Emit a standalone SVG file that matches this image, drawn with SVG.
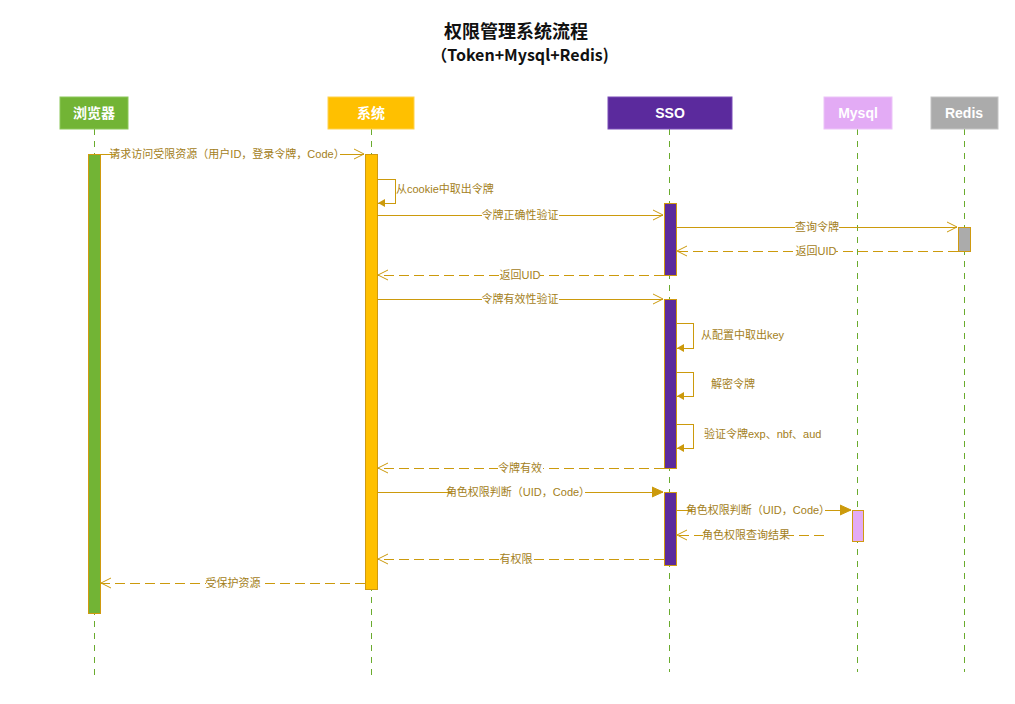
<svg xmlns="http://www.w3.org/2000/svg" width="1015" height="704" viewBox="0 0 1015 704">
<style>
.title{font-family:"Noto Sans CJK SC","Liberation Sans",sans-serif;font-weight:bold;fill:#111;text-anchor:middle}
.hd{font-family:"Liberation Sans","Noto Sans CJK SC",sans-serif;font-weight:bold;fill:#fff;text-anchor:middle;font-size:14px}
.life{stroke:#6aab2e;stroke-width:1;stroke-dasharray:6,6;fill:none}
.act{stroke:#d09a10;stroke-width:1;shape-rendering:crispEdges}
.msg{stroke:#cc9a0c;stroke-width:1;fill:none;shape-rendering:crispEdges}
.dash{stroke-dasharray:10,5}
.lbl{font-family:"Liberation Sans","Noto Sans CJK SC",sans-serif;font-size:11px;fill:#a3801a}
.mid{text-anchor:middle}
.bg{fill:#fff}
</style>
<defs>
<marker id="open" markerWidth="12" markerHeight="12" refX="11" refY="6" orient="auto" markerUnits="userSpaceOnUse">
<path d="M1,1 L11,6 L1,11" fill="none" stroke="#cc9a0c" stroke-width="1"/>
</marker>
<marker id="fill" markerWidth="12" markerHeight="12" refX="11" refY="6" orient="auto" markerUnits="userSpaceOnUse">
<path d="M0,1 L11,6 L0,11 Z" fill="#cc9a0c" stroke="#cc9a0c" stroke-width="1"/>
</marker>
<marker id="small" markerWidth="8" markerHeight="10" refX="7" refY="5" orient="auto" markerUnits="userSpaceOnUse">
<path d="M0,1 L7,5 L0,9 Z" fill="#cc9a0c"/>
</marker>
</defs>
<rect width="1015" height="704" fill="#fff"/>
<g id="title">
<text class="title" x="516" y="38" font-size="18">权限管理系统流程</text>
<text class="title" x="520" y="61" font-size="16">（Token+Mysql+Redis)</text>
</g>
<g id="lifelines">
<line class="life" x1="94.5" y1="129" x2="94.5" y2="678"/>
<line class="life" x1="371.5" y1="129" x2="371.5" y2="678"/>
<line class="life" x1="669.5" y1="129" x2="669.5" y2="672"/>
<line class="life" x1="857.5" y1="129" x2="857.5" y2="672"/>
<line class="life" x1="964.5" y1="129" x2="964.5" y2="672"/>
</g>
<g id="browser">
<rect x="60" y="97" width="68" height="32" fill="#72b435" stroke="#8cc85a" stroke-width="1"/>
<text class="hd" x="94" y="118" font-size="16">浏览器</text>
<rect class="act" x="88" y="154" width="12" height="459" fill="#72b435"/>
</g>
<g id="system">
<rect x="328" y="97" width="86" height="32" fill="#ffc000" stroke="#ffd24d" stroke-width="1"/>
<text class="hd" x="371" y="118" font-size="16">系统</text>
<rect class="act" x="365" y="154" width="12" height="435" fill="#ffc000"/>
</g>
<g id="sso">
<rect x="608" y="97" width="124" height="32" fill="#5b2a9d" stroke="#7a4cb8" stroke-width="1"/>
<text class="hd" x="670" y="118">SSO</text>
<rect class="act" x="664" y="203" width="12" height="72" fill="#5b2a9d"/>
<rect class="act" x="664" y="299" width="12" height="169" fill="#5b2a9d"/>
<rect class="act" x="664" y="492" width="12" height="73" fill="#5b2a9d"/>
</g>
<g id="mysql">
<rect x="824" y="97" width="68" height="32" fill="#e3abf5" stroke="#ecc4f8" stroke-width="1"/>
<text class="hd" x="858" y="118">Mysql</text>
<rect class="act" x="852" y="510" width="11" height="31" fill="#e3abf5"/>
</g>
<g id="redis">
<rect x="931" y="97" width="67" height="32" fill="#ababab" stroke="#c4c4c4" stroke-width="1"/>
<text class="hd" x="964" y="118">Redis</text>
<rect class="act" x="958" y="227" width="12" height="24" fill="#ababab"/>
</g>
<g id="connectors">
<line class="msg" x1="100" y1="154" x2="364" y2="154" marker-end="url(#open)"/>
<path class="msg" d="M377,179 H395 V203 H378" marker-end="url(#small)"/>
<line class="msg" x1="377" y1="215" x2="663" y2="215" marker-end="url(#open)"/>
<line class="msg" x1="676" y1="227" x2="957" y2="227" marker-end="url(#open)"/>
<line class="msg dash" x1="958" y1="251" x2="677" y2="251" marker-end="url(#open)"/>
<line class="msg dash" x1="664" y1="275" x2="378" y2="275" marker-end="url(#open)"/>
<line class="msg" x1="377" y1="299" x2="663" y2="299" marker-end="url(#open)"/>
<path class="msg" d="M676,323 H693 V348 H677" marker-end="url(#small)"/>
<path class="msg" d="M676,372 H693 V396 H677" marker-end="url(#small)"/>
<path class="msg" d="M676,424 H693 V448 H677" marker-end="url(#small)"/>
<line class="msg dash" x1="664" y1="468" x2="378" y2="468" marker-end="url(#open)"/>
<line class="msg" x1="377" y1="492" x2="663" y2="492" marker-end="url(#fill)"/>
<line class="msg" x1="676" y1="510" x2="851" y2="510" marker-end="url(#fill)"/>
<line class="msg dash" x1="824" y1="535" x2="677" y2="535" marker-end="url(#open)"/>
<line class="msg dash" x1="664" y1="559" x2="378" y2="559" marker-end="url(#open)"/>
<line class="msg dash" x1="365" y1="583" x2="101" y2="583" marker-end="url(#open)"/>
</g>
<g id="labels">
<rect class="bg" x="116" y="148" width="224" height="12"/>
<text class="lbl mid" x="227" y="158">请求访问受限资源（用户ID，登录令牌，Code）</text>
<text class="lbl" x="396" y="193">从cookie中取出令牌</text>
<rect class="bg" x="482" y="209" width="77" height="12"/>
<text class="lbl mid" x="520" y="219">令牌正确性验证</text>
<rect class="bg" x="795" y="221" width="44" height="12"/>
<text class="lbl mid" x="817" y="231">查询令牌</text>
<rect class="bg" x="797" y="245" width="39" height="12"/>
<text class="lbl mid" x="816" y="255">返回UID</text>
<rect class="bg" x="501" y="269" width="39" height="12"/>
<text class="lbl mid" x="520" y="279">返回UID</text>
<rect class="bg" x="482" y="293" width="77" height="12"/>
<text class="lbl mid" x="520" y="303">令牌有效性验证</text>
<text class="lbl" x="701" y="339">从配置中取出key</text>
<text class="lbl" x="711" y="388">解密令牌</text>
<text class="lbl" x="704" y="438">验证令牌exp、nbf、aud</text>
<rect class="bg" x="498" y="462" width="45" height="12"/>
<text class="lbl mid" x="520" y="472">令牌有效</text>
<rect class="bg" x="451" y="486" width="134" height="12"/>
<text class="lbl mid" x="518" y="496">角色权限判断（UID，Code）</text>
<rect class="bg" x="692" y="504" width="133" height="12"/>
<text class="lbl mid" x="758" y="514">角色权限判断（UID，Code）</text>
<rect class="bg" x="703" y="529" width="86" height="12"/>
<text class="lbl mid" x="746" y="539">角色权限查询结果</text>
<rect class="bg" x="499" y="553" width="34" height="12"/>
<text class="lbl mid" x="516" y="563">有权限</text>
<rect class="bg" x="206" y="577" width="54" height="12"/>
<text class="lbl mid" x="233" y="587">受保护资源</text>
</g>
</svg>
